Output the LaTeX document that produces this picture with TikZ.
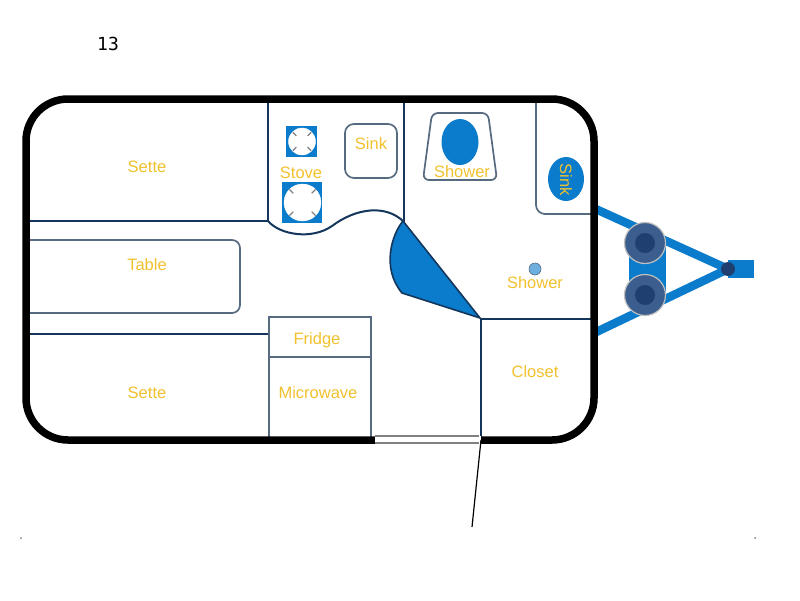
\documentclass[tikz,border=0pt]{standalone}
\usepackage{fontspec}
\setmainfont{Liberation Sans}
\newfontfamily\numfont{DejaVu Sans Mono}
\usepackage{tikz}
\definecolor{wallblue}{HTML}{14365C}
\definecolor{softgray}{HTML}{566A80}
\definecolor{fillblue}{HTML}{0B7CCB}
\definecolor{labelgold}{HTML}{F2C12E}
\definecolor{wheelblue}{HTML}{3B5E8E}
\definecolor{hubblue}{HTML}{1F3F70}
\tikzset{
  wall/.style={draw=wallblue,line width=2pt},
  thinwall/.style={draw=softgray,line width=1.7pt},
  label/.style={text=labelgold,font=\fontsize{16.5}{18}\selectfont,inner sep=0pt},
  burner/.style={fill=white,draw=white},
  tick/.style={draw=gray,line width=1.2pt},
  beam/.style={draw=fillblue,line width=8.5pt},
  wheel/.style={fill=wheelblue,draw=lightgray,line width=1.2pt}
}
\begin{document}
\begin{tikzpicture}[x=1pt,y=-1pt]
                \useasboundingbox (0,0) rectangle (800,600);
                \fill[white] (0,0) rectangle (800,600);
                % hitch and axle
                \draw[beam] (595,208.7) -- (728,269);
                \draw[beam] (595,332.6) -- (728,269);
                \fill[fillblue] (728,260) rectangle (754,278);
                \fill[fillblue] (629,243) rectangle (666,295);
                \filldraw[wheel] (645,243) circle (20.5);
                \fill[hubblue] (645,243) circle (10);
                \filldraw[wheel] (645,295) circle (20.5);
                \fill[hubblue] (645,295) circle (10);
                \fill[hubblue] (728,269) circle (7);
                % left side
                \draw[wall] (26,221) -- (268,221);
                \draw[wall] (268,99) -- (268,221);
                \draw[wall] (404,99) -- (404,222);
                \draw[wall] (26,334) -- (269,334);
                \draw[thinwall] (26,240) -- (232,240) arc[start angle=-90,end angle=0,radius=8] -- ++(0,57) arc[start angle=0,end angle=90,radius=8] -- (26,313);
                % galley
                \draw[wall] (268,221) .. controls (280,235) and (312,240) .. (332,226) .. controls (356,208) and (386,204) .. (404,222);
                \fill[fillblue] (286,126) rectangle (317,157);
                \filldraw[burner] (302,141.5) circle (13.5);
                \fill[fillblue] (282,182) rectangle (322,223);
                \filldraw[burner] (302.5,202.5) circle (18.5);
                \foreach \a in {45,135,225,315} {
                    \draw[tick] (302,141.5) ++(\a:8) -- ++(\a:5);
                    \draw[tick] (302.5,202.5) ++(\a:13) -- ++(\a:5.5);
                }
                \draw[thinwall,rounded corners=9pt] (345,124) rectangle (397,178);
                % bath
                \draw[thinwall,rounded corners=6pt] (432,113) -- (488,113) -- (497,180) -- (423,180) -- cycle;
                \fill[fillblue] (460,142) ellipse (18.5 and 23);
                \draw[thinwall] (536,99) -- (536,205) arc[start angle=180,end angle=90,radius=9] -- (594,214);
                \fill[fillblue] (566,179) ellipse (18 and 22);
                \filldraw[fill=fillblue!60,draw=softgray,line width=.6pt] (535,269) circle (6);
                % door fan
                \filldraw[fill=fillblue,draw=wallblue,line width=1.6pt] (403,221) .. controls (392,234) and (381,268) .. (402,293) -- (480,318) -- cycle;
                \draw[wall] (481,319) -- (481,440);
                \draw[wall] (481,319) -- (594,319);
                % fridge and microwave
                \draw[thinwall] (269,317) rectangle (371,357);
                \draw[thinwall] (269,357) -- (269,437);
                \draw[thinwall] (371,357) -- (371,437);
                % outer shell
                \draw[line width=7.5pt,rounded corners=42pt] (26,99) rectangle (594,440);
                \fill[white] (375,436) rectangle (481,444);
                \draw[gray,line width=1.2pt] (375,436) -- (479,436);
                \draw[gray,line width=1.2pt] (375,443) -- (479,443);
                \draw[line width=1.2pt] (481,440) -- (472,527);
                % specks
                \fill[gray] (21,538) circle (1);
                \fill[gray] (755,538) circle (1);
                % labels
                \node[inner sep=0pt,font=\numfont\fontsize{18}{20}\selectfont] (num) at (108,44) {13};
                \node[label] (setteup) at (147,167) {Sette};
                \node[label] (table) at (147,265) {Table};
                \node[label] (settelow) at (147,393) {Sette};
                \node[label] (stove) at (301,173) {Stove};
                \node[label] (sinkgalley) at (371,144) {Sink};
                \node[label] (showertray) at (462,172) {Shower};
                \node[label,rotate=-90] (sinkbath) at (566,180) {Sink};
                \node[label] (showerdot) at (535,283) {Shower};
                \node[label] (fridge) at (317,340) {Fridge};
                \node[label] (microwave) at (318,393) {Microwave};
                \node[label] (closet) at (535,372) {Closet};
            \end{tikzpicture}
\end{document}
